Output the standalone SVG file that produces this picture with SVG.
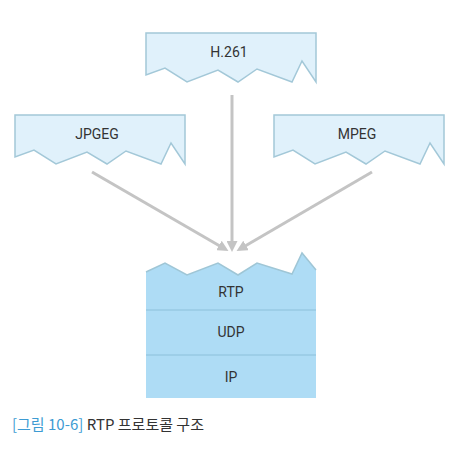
<svg xmlns="http://www.w3.org/2000/svg" width="451" height="450" viewBox="0 0 451 450">
<style>
.src{fill:#e0f1fb;stroke:#a3c8d8;stroke-width:1.5;stroke-linejoin:miter}
.stk{fill:#aedcf5;stroke:none}
.edge{fill:none;stroke:#9fc6d6;stroke-width:1.5}
.div{stroke:#8cc0da;stroke-width:1}
.lbl{font-family:"Roboto","Noto Sans CJK KR",sans-serif;font-size:14px;fill:#333;text-anchor:middle}
.arr{stroke:#c4c4c4;stroke-width:3;fill:none}
.cap{font-family:"Noto Sans CJK KR",sans-serif;font-size:15px}
</style>
<defs>
<marker id="ah" markerWidth="11" markerHeight="11" refX="7" refY="5.5" orient="auto" markerUnits="userSpaceOnUse">
<path d="M0,0 L11,5.5 L0,11 z" fill="#c4c4c4"/>
</marker>
<path id="wave" d="M0,0 L170,0 L170,49 L156,28 L146,49 L111,36 L92,49 L72,37 L41,49 L19,35 L0,42 Z"/>
</defs>
<g id="h261">
<use href="#wave" class="src" x="146" y="33"/>
<text class="lbl" x="229" y="57">H.261</text>
</g>
<g id="jpgeg">
<use href="#wave" class="src" x="15" y="115"/>
<text class="lbl" x="97" y="139">JPGEG</text>
</g>
<g id="mpeg">
<use href="#wave" class="src" x="274" y="115"/>
<text class="lbl" x="357" y="139">MPEG</text>
</g>
<g id="connectors">
<line class="arr" x1="92" y1="172" x2="225" y2="249" marker-end="url(#ah)"/>
<line class="arr" x1="232" y1="95" x2="232" y2="248" marker-end="url(#ah)"/>
<line class="arr" x1="372" y1="172" x2="240" y2="249" marker-end="url(#ah)"/>
</g>
<g id="stack">
<path class="stk" d="M146,272 L165,263 L187,275 L218,263 L238,275 L257,263 L292,274 L302,253 L316,270 L316,398 L146,398 Z"/>
<path class="edge" d="M146,272 L165,263 L187,275 L218,263 L238,275 L257,263 L292,274 L302,253 L316,270"/>
<line class="div" x1="146" y1="310" x2="316" y2="310"/>
<line class="div" x1="146" y1="355" x2="316" y2="355"/>
</g>
<g id="rtp"><text class="lbl" x="231" y="297">RTP</text></g>
<g id="udp"><text class="lbl" x="231" y="337">UDP</text></g>
<g id="ip"><text class="lbl" x="231" y="382">IP</text></g>
<text class="cap" x="12" y="430"><tspan fill="#3d9bd3">[그림 10-6]</tspan><tspan fill="#333"> RTP 프로토콜 구조</tspan></text>
</svg>
